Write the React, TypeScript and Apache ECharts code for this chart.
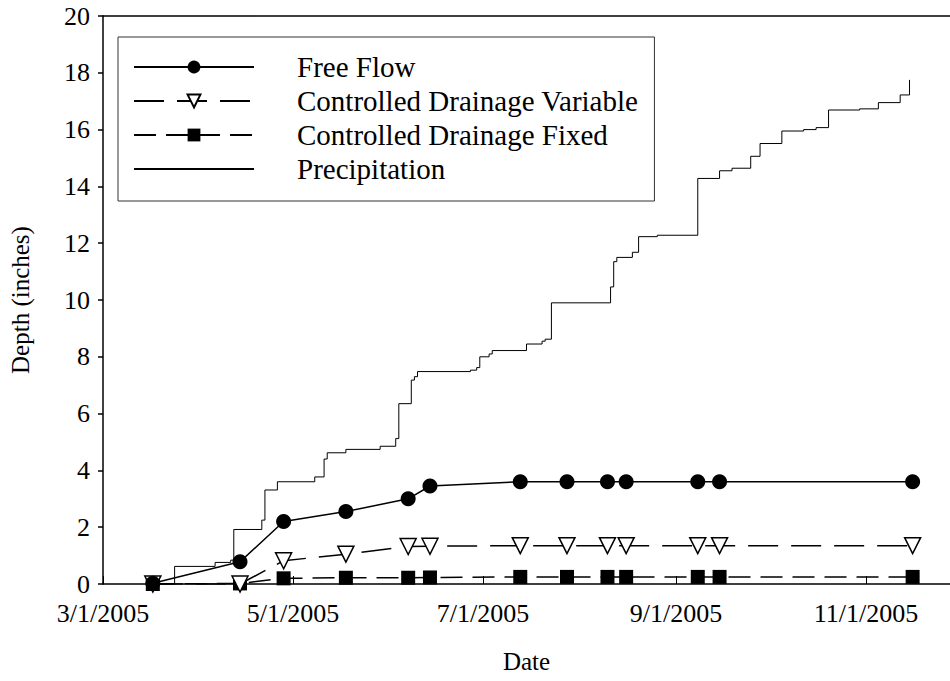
import { useEffect, useRef } from "react";
import * as echarts from "echarts";

const markerDates = [
  "2005-03-17", "2005-04-14", "2005-04-28", "2005-05-18", "2005-06-07", "2005-06-14",
  "2005-07-13", "2005-07-28", "2005-08-10", "2005-08-16", "2005-09-08", "2005-09-15", "2005-11-16",
];
const freeFlow = [0.03, 0.78, 2.2, 2.55, 3.0, 3.45, 3.6, 3.6, 3.6, 3.6, 3.6, 3.6, 3.6];
const cdVariable = [0, 0, 0.82, 1.05, 1.32, 1.33, 1.35, 1.35, 1.35, 1.35, 1.35, 1.35, 1.35];
const cdFixed = [0, 0.02, 0.2, 0.22, 0.22, 0.23, 0.25, 0.25, 0.25, 0.25, 0.25, 0.25, 0.25];

const precipDates = [
  "2005-03-17", "2005-03-24", "2005-04-06", "2005-04-11", "2005-04-12", "2005-04-21", "2005-04-22",
  "2005-04-26", "2005-05-08", "2005-05-11", "2005-05-12", "2005-05-18", "2005-05-29", "2005-06-03",
  "2005-06-04", "2005-06-08", "2005-06-09", "2005-06-10", "2005-06-27", "2005-06-29", "2005-06-30",
  "2005-07-03", "2005-07-04", "2005-07-15", "2005-07-20", "2005-07-21", "2005-07-23", "2005-08-11",
  "2005-08-12", "2005-08-13", "2005-08-18", "2005-08-20", "2005-08-26", "2005-09-08", "2005-09-15",
  "2005-09-19", "2005-09-25", "2005-09-28", "2005-10-05", "2005-10-12", "2005-10-16", "2005-10-20",
  "2005-10-30", "2005-11-05", "2005-11-12", "2005-11-15",
];
const precipValues = [
  0, 0.62, 0.76, 0.84, 1.92, 2.25, 3.31,
  3.6, 3.77, 4.4, 4.62, 4.74, 4.85, 5.12,
  6.35, 7.18, 7.3, 7.48, 7.53, 7.62, 8.0,
  8.1, 8.22, 8.45, 8.55, 8.62, 9.9, 10.46,
  11.35, 11.5, 11.68, 12.23, 12.28, 14.28, 14.55,
  14.64, 15.06, 15.51, 15.95, 16.0, 16.07, 16.69,
  16.73, 16.95, 17.22, 17.75,
];

const xTickDates = ["2005-03-01", "2005-05-01", "2005-07-01", "2005-09-01", "2005-11-01"];
const xStart = "2005-03-01";
const xEnd = "2005-11-28";

const FONT = '"Liberation Serif", "Times New Roman", serif';

const toTs = (s: string) => {
  const [y, m, d] = s.split("-").map(Number);
  return Date.UTC(y, m - 1, d);
};

export default function App() {
  const ref = useRef<HTMLDivElement>(null);

  useEffect(() => {
    if (!ref.current) return;
    const chart = echarts.init(ref.current, null, { renderer: "svg" });
    const pts = (vals: number[]) => markerDates.map((d, i) => [toTs(d), vals[i]]);
    const fmt = (v: number) => {
      const d = new Date(v);
      return `${d.getUTCMonth() + 1}/${d.getUTCDate()}/${d.getUTCFullYear()}`;
    };
    const ticks = xTickDates.map(toTs);

    chart.setOption({
      animation: false,
      backgroundColor: "#fff",
      grid: { left: 102, right: 0, top: 16, bottom: 97, containLabel: false },
      xAxis: [
        {
          type: "value",
          min: toTs(xStart),
          max: toTs(xEnd),
          position: "bottom",
          name: "Date",
          nameLocation: "middle",
          nameGap: 65,
          nameTextStyle: { fontFamily: FONT, fontSize: 25, color: "#000" },
          axisLine: { show: true, lineStyle: { color: "#000", width: 1.5 } },
          axisTick: { show: true, inside: true, length: 8, customValues: ticks, lineStyle: { color: "#000", width: 1 } },
          axisLabel: { customValues: ticks, formatter: fmt, fontFamily: FONT, fontSize: 26, color: "#000", margin: 16 },
          splitLine: { show: false },
        },
        {
          type: "value",
          min: toTs(xStart),
          max: toTs(xEnd),
          position: "top",
          axisLine: { show: true, lineStyle: { color: "#000", width: 1.5 } },
          axisTick: { show: false },
          axisLabel: { show: false },
          splitLine: { show: false },
        },
      ],
      yAxis: {
        type: "value",
        min: 0,
        max: 20,
        interval: 2,
        name: "Depth (inches)",
        nameLocation: "middle",
        nameRotate: 90,
        nameGap: 70,
        nameTextStyle: { fontFamily: FONT, fontSize: 25, color: "#000" },
        axisLine: { show: true, lineStyle: { color: "#000", width: 1.5 } },
        axisTick: { show: true, inside: false, length: 5, lineStyle: { color: "#000", width: 1.5 } },
        axisLabel: { fontFamily: FONT, fontSize: 26, color: "#000", margin: 13 },
        splitLine: { show: false },
      },
      legend: {
        orient: "vertical",
        left: 118,
        top: 37,
        data: [
          "Free Flow",
          "Controlled Drainage Variable",
          "Controlled Drainage Fixed",
          { name: "Precipitation", itemStyle: { opacity: 0 } },
        ],
        itemWidth: 120,
        itemHeight: 16,
        itemGap: 0,
        padding: [13, 16, 15, 15],
        borderColor: "#333",
        borderWidth: 1,
        selectedMode: false,
        textStyle: { fontFamily: FONT, fontSize: 29, color: "#000", lineHeight: 34, padding: [0, 0, 0, 38] },
      },
      series: [
        {
          name: "Precipitation",
          type: "line",
          step: "end",
          data: precipDates.map((d, i) => [toTs(d), precipValues[i]]),
          symbol: "none",
          showSymbol: false,
          lineStyle: { color: "#000", width: 1 },
          itemStyle: { color: "#000" },
          z: 1,
        },
        {
          name: "Controlled Drainage Fixed",
          type: "line",
          data: pts(cdFixed),
          symbol: "rect",
          symbolSize: 14,
          showAllSymbol: true,
          lineStyle: { color: "#000", width: 1.5, type: [22, 10] },
          itemStyle: { color: "#000" },
          z: 2,
        },
        {
          name: "Controlled Drainage Variable",
          type: "line",
          data: pts(cdVariable),
          symbol: "triangle",
          symbolRotate: 180,
          symbolSize: 16,
          showAllSymbol: true,
          lineStyle: { color: "#000", width: 1.5, type: [30, 13] },
          itemStyle: { color: "#fff", borderColor: "#000", borderWidth: 1.5 },
          z: 3,
        },
        {
          name: "Free Flow",
          type: "line",
          data: pts(freeFlow),
          symbol: "circle",
          symbolSize: 15,
          showAllSymbol: true,
          lineStyle: { color: "#000", width: 1.5 },
          itemStyle: { color: "#000" },
          z: 4,
        },
      ],
    });
    return () => chart.dispose();
  }, []);

  return (
    <div
      ref={ref}
      style={{ position: "absolute", left: 0, top: 0, width: 950, height: 681, background: "#fff" }}
    />
  );
}
